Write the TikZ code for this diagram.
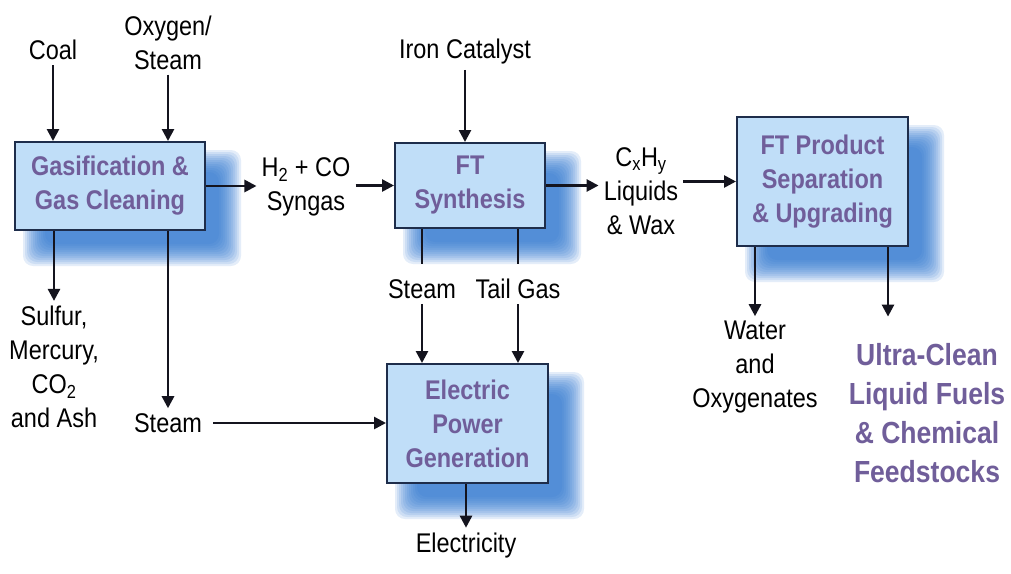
\documentclass[tikz,border=0pt]{standalone}
\usepackage{fontspec}
\setmainfont{Liberation Sans}[FakeStretch=0.87]
\usetikzlibrary{arrows.meta,calc}
\pgfdeclarelayer{back}
\pgfdeclarelayer{bg}
\pgfsetlayers{back,bg,main}
\definecolor{boxfill}{RGB}{192,222,248}
\definecolor{boxline}{RGB}{30,45,75}
\definecolor{boxtext}{RGB}{112,94,154}
\definecolor{shadowblue}{RGB}{40,115,208}
\definecolor{arrowc}{RGB}{20,20,30}
\newcommand\softshadow[1]{%
  \foreach \r in {13,11,9,7,5,3,1,-1,-3,-5,-7,-9}{%
    \fill[shadowblue, opacity=0.12, rounded corners=10pt]
      ([shift={(22-\r,22-\r)}]#1.north west) rectangle ([shift={(22+\r,22+\r)}]#1.south east);
  }%
}
\tikzset{
  box/.style={draw=boxline, line width=2pt, fill=boxfill, text=boxtext,
    font=\fontsize{27}{34}\selectfont\bfseries, align=center, inner sep=0pt},
  lab/.style={font=\fontsize{27}{34}\selectfont, align=center, inner sep=5pt, text=black},
  big/.style={font=\fontsize{30.5}{39}\selectfont\bfseries, align=center, inner sep=5pt, text=boxtext},
  arr/.style={draw=arrowc, line width=2.6pt, -{Triangle[length=12pt,width=12pt]}},
  seg/.style={draw=arrowc, line width=2.6pt},
}
\begin{document}
\begin{tikzpicture}[x=1pt,y=-1pt]
\useasboundingbox (0,0) rectangle (1011,573);
\begin{pgfonlayer}{back}
\fill[white] (0,0) rectangle (1011,573);
\end{pgfonlayer}

% boxes
\node[box, minimum width=190pt, minimum height=88pt] (b1) at (110,186) {Gasification \&\\Gas Cleaning};
\node[box, minimum width=150pt, minimum height=85pt] (b2) at (470,185.5) {FT\\Synthesis};
\node[box, minimum width=171pt, minimum height=129pt] (b3) at (822.5,181.5) {FT Product\\Separation\\\& Upgrading};
\node[box, minimum width=161pt, minimum height=119pt] (b4) at (467.5,423.5) {Electric\\Power\\Generation};

\begin{pgfonlayer}{bg}
  \softshadow{b1}
  \softshadow{b2}
  \softshadow{b3}
  \softshadow{b4}
\end{pgfonlayer}

% labels
\node[lab] (coal) at (53,50) {Coal};
\node[lab] (oxy) at (168,42.5) {Oxygen/\\Steam};
\node[lab] (iron) at (465,52) {Iron Catalyst};
\node[lab] (syn) at (306,187) {H\textsubscript{2} + CO\\Syngas};
\node[lab] (cxhy) at (641,191) {C\textsubscript{x}H\textsubscript{y}\\Liquids\\\& Wax};
\node[lab] (sulf) at (54,367) {Sulfur,\\Mercury,\\CO\textsubscript{2}\\and Ash};
\node[lab] (st1) at (168,423) {Steam};
\node[lab] (st2) at (422,289) {Steam};
\node[lab] (tail) at (518,289) {Tail Gas};
\node[lab] (elec) at (466,545.5) {Electricity};
\node[lab] (water) at (755,367.5) {Water\\and\\Oxygenates};
\node[big] (ultra) at (927,413.5) {Ultra-Clean\\Liquid Fuels\\\& Chemical\\Feedstocks};

% connectors
\draw[arr] (coal.south) -- (coal.south |- b1.north);
\draw[arr] (oxy.south) -- (oxy.south |- b1.north);
\draw[arr] (iron.south) -- (iron.south |- b2.north);
\draw[arr] (b1.east) -- (b1.east -| syn.west);
\draw[arr] (syn.east |- b2.west) -- (b2.west);
\draw[arr] (b2.east) -- (b2.east -| cxhy.west);
\draw[arr] (cxhy.east |- b3.west) -- (b3.west);
\draw[arr] (b1.south -| sulf.north) -- (sulf.north);
\draw[arr] (b1.south -| st1.north) -- (st1.north);
\draw[arr, shorten <=6pt] (st1.east) -- (st1.east -| b4.west);
\draw[seg, shorten >=10pt] (b2.south -| st2.north) -- (st2.north);
\draw[arr] (st2.south) -- (st2.south |- b4.north);
\draw[seg, shorten >=10pt] (b2.south -| tail.north) -- (tail.north);
\draw[arr] (tail.south) -- (tail.south |- b4.north);
\draw[arr] (b4.south -| elec.north) -- (elec.north);
\draw[arr] (b3.south -| water.north) -- (water.north);
\draw[arr, shorten >=22pt] ([xshift=65.5pt]b3.south) -- ([xshift=65.5pt]b3.south |- ultra.north);
\end{tikzpicture}
\end{document}
